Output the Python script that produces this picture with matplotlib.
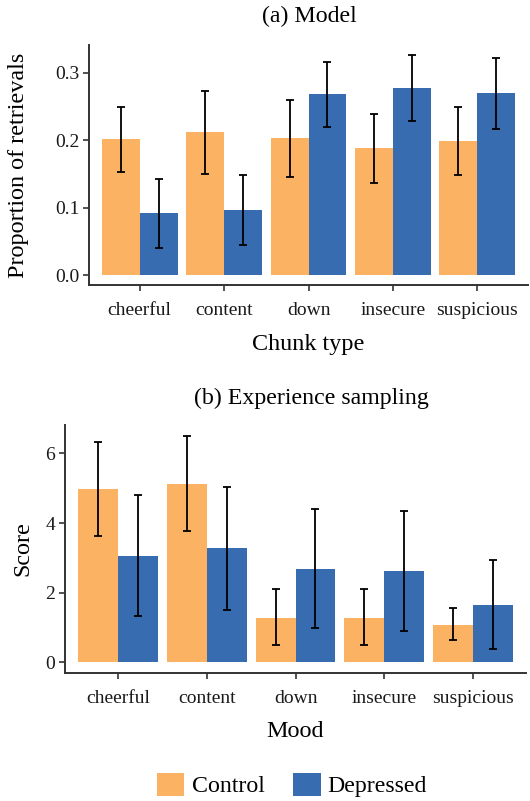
import matplotlib
matplotlib.use("Agg")
import matplotlib.pyplot as plt
import numpy as np
from matplotlib.patches import Patch

plt.rcParams['font.family'] = ['Liberation Serif', 'DejaVu Serif']

categories = ["cheerful", "content", "down", "insecure", "suspicious"]
groups = ["Control", "Depressed"]

model_control = [0.202, 0.212, 0.203, 0.188, 0.199]
model_control_lo = [0.153, 0.150, 0.146, 0.137, 0.149]
model_control_hi = [0.249, 0.273, 0.259, 0.238, 0.249]
model_depressed = [0.092, 0.096, 0.268, 0.277, 0.270]
model_depressed_lo = [0.040, 0.0445, 0.220, 0.228, 0.216]
model_depressed_hi = [0.142, 0.148, 0.316, 0.326, 0.322]

es_control = [4.98, 5.12, 1.27, 1.27, 1.07]
es_control_lo = [3.64, 3.78, 0.48, 0.48, 0.62]
es_control_hi = [6.32, 6.50, 2.09, 2.09, 1.56]
es_depressed = [3.06, 3.29, 2.68, 2.63, 1.65]
es_depressed_lo = [1.31, 1.51, 0.97, 0.90, 0.38]
es_depressed_hi = [4.81, 5.04, 4.41, 4.35, 2.94]

c_ctrl = "#FBB363"
c_dep = "#386CB0"
axcol = "#333333"

W, H = 530, 801
fig = plt.figure(figsize=(W / 100, H / 100), dpi=100)

def panel(rect, ctrl, clo, chi, dep, dlo, dhi, ylim, yticks, ytl, ylabel, xlabel, ylab_x, xpad):
    ax = fig.add_axes(rect)
    x = np.arange(len(categories))
    w = 0.45
    for vals, lo, hi, off, col in [(ctrl, clo, chi, -w/2, c_ctrl), (dep, dlo, dhi, w/2, c_dep)]:
        vals = np.array(vals); lo = np.array(lo); hi = np.array(hi)
        ax.bar(x + off, vals, width=w, color=col, linewidth=0)
        ax.errorbar(x + off, vals, yerr=[vals - lo, hi - vals], fmt='none',
                    ecolor='black', elinewidth=1.3, capsize=3, capthick=1.3)
    ax.set_xlim(-0.6, len(categories) - 0.4)
    ax.set_ylim(*ylim)
    ax.set_yticks(yticks)
    ax.set_yticklabels(ytl)
    ax.set_xticks(x)
    ax.set_xticklabels(categories)
    for s in ['top', 'right']:
        ax.spines[s].set_visible(False)
    for s in ['left', 'bottom']:
        ax.spines[s].set_color(axcol)
        ax.spines[s].set_linewidth(1.4)
    ax.tick_params(axis='both', colors=axcol, length=4, width=1.2, labelsize=14.0,
                   labelcolor='#1a1a1a', pad=3)
    ax.tick_params(axis='x', pad=8)
    ax.set_ylabel(ylabel, fontsize=17.4)
    ax.yaxis.set_label_coords(ylab_x / W, 0.5, transform=None)
    ax.yaxis.label.set_transform(matplotlib.transforms.blended_transform_factory(fig.transFigure, ax.transAxes))
    ax.yaxis.label.set_position((ylab_x / W, 0.5))
    ax.set_xlabel(xlabel, fontsize=17.4, labelpad=xpad)
    return ax

axa = panel([89/W, 1 - 285/H, (528-89)/W, (285-45)/H],
            model_control, model_control_lo, model_control_hi,
            model_depressed, model_depressed_lo, model_depressed_hi,
            (-0.0148, 0.341), [0, 0.1, 0.2, 0.3], ["0.0", "0.1", "0.2", "0.3"],
            "Proportion of retrievals", "Chunk type", 29, 11)
axb = panel([65/W, 1 - 673/H, (526-65)/W, (673-425)/H],
            es_control, es_control_lo, es_control_hi,
            es_depressed, es_depressed_lo, es_depressed_hi,
            (-0.316, 6.82), [0, 2, 4, 6], ["0", "2", "4", "6"],
            "Score", "Mood", 33, 10)

fig.text(309/W, 1 - 16/H, "(a) Model", ha='center', va='center', fontsize=17.2)
fig.text(311/W, 1 - 398/H, "(b) Experience sampling", ha='center', va='center', fontsize=17.2)

handles = [Patch(facecolor=c_ctrl, edgecolor='none'), Patch(facecolor=c_dep, edgecolor='none')]
fig.legend(handles, groups, loc='center', bbox_to_anchor=(292/W, 1 - 785/H),
           ncol=2, frameon=False, fontsize=17.2, handlelength=1.15, handleheight=1.15,
           handletextpad=0.3, columnspacing=1.2, borderpad=0)

fig.savefig("out.png", dpi=100)
